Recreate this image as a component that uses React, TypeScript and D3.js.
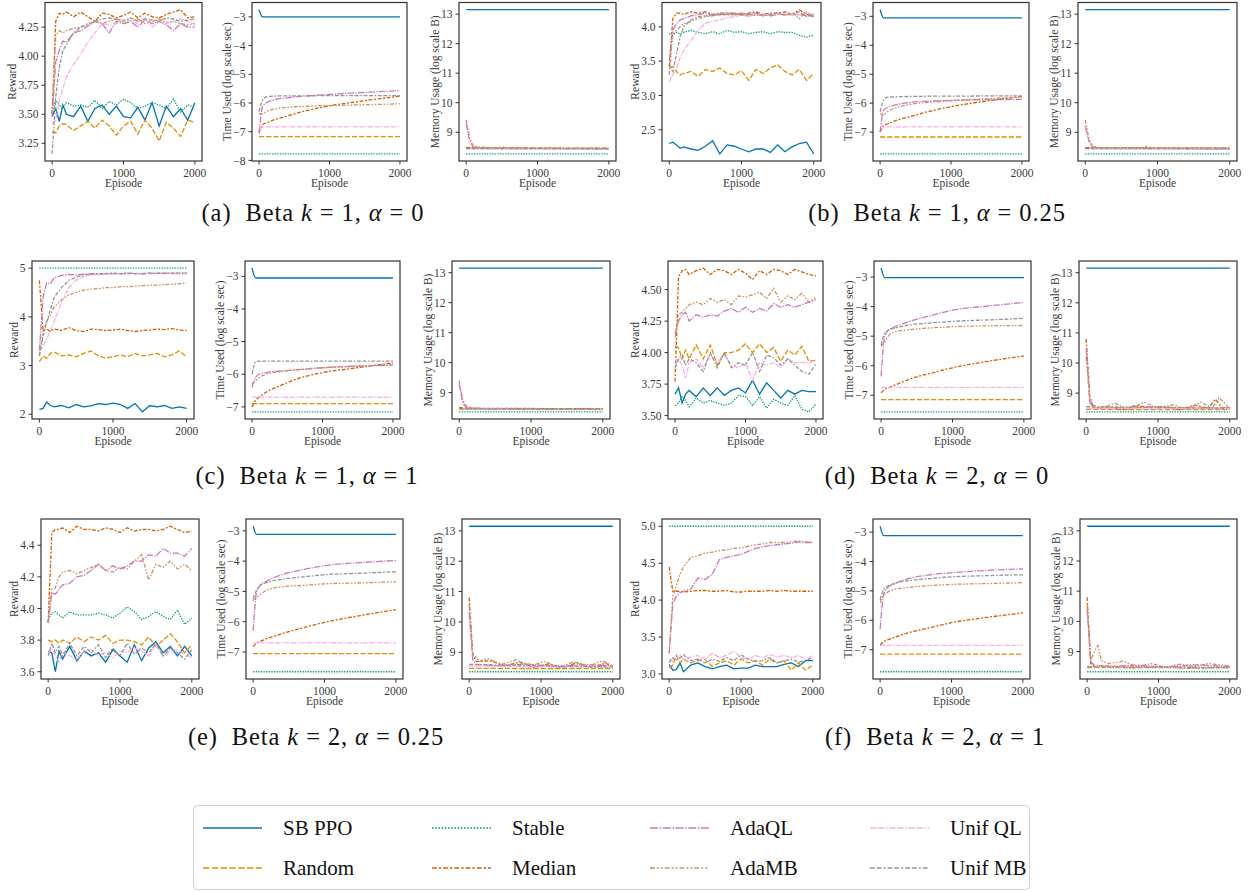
import React from 'react';
import * as d3 from 'd3';

// ---- series definitions ----
const SERIES = ['SB PPO', 'Random', 'Stable', 'Median', 'AdaQL', 'AdaMB', 'Unif QL', 'Unif MB'];
const COLORS = ['#0173b2', '#de8f05', '#029e73', '#d55e00', '#cc78bc', '#ca9161', '#fbafe4', '#949494'];
// seaborn default dash patterns, in units of line width
const DASHES: number[][] = [
  [],
  [4, 1.5],
  [1, 1],
  [3, 1.25, 1.5, 1.25],
  [5, 1, 1, 1],
  [3, 1.25, 1.25, 1.25, 1.25, 1.25],
  [4, 1, 4, 1, 1, 1],
  [3, 1.25, 3, 1.25, 1.25, 1.25],
];

// ---- episode grids ----
const REWARD_EPISODES = [0, 50, 100, 150, 200, 300, 400, 500, 600, 700, 800, 900, 1000, 1100, 1200, 1300, 1400, 1500, 1600, 1700, 1800, 1900, 2000];
const TIME_EPISODES = [0, 50, 100, 200, 400, 700, 1000, 1500, 2000];
const EPISODE_TICKS = [0, 1000, 2000];

// ---- reward curves (one row per series, in SERIES order) ----
const REWARD_A = [
  [3.48, 3.55, 3.44, 3.58, 3.50, 3.48, 3.57, 3.44, 3.55, 3.58, 3.50, 3.57, 3.48, 3.47, 3.56, 3.45, 3.60, 3.40, 3.57, 3.48, 3.55, 3.45, 3.60],
  [3.35, 3.34, 3.40, 3.42, 3.41, 3.36, 3.40, 3.44, 3.38, 3.45, 3.40, 3.32, 3.40, 3.44, 3.33, 3.45, 3.38, 3.27, 3.43, 3.38, 3.31, 3.45, 3.43],
  [3.50, 3.62, 3.58, 3.55, 3.60, 3.57, 3.58, 3.56, 3.62, 3.55, 3.61, 3.58, 3.63, 3.60, 3.55, 3.57, 3.60, 3.58, 3.55, 3.63, 3.52, 3.58, 3.56],
  [3.50, 4.30, 4.37, 4.36, 4.38, 4.34, 4.38, 4.34, 4.30, 4.37, 4.36, 4.33, 4.35, 4.38, 4.33, 4.37, 4.34, 4.33, 4.36, 4.38, 4.40, 4.33, 4.34],
  [3.48, 3.95, 4.05, 4.13, 4.12, 4.20, 4.22, 4.26, 4.30, 4.28, 4.20, 4.30, 4.28, 4.30, 4.25, 4.31, 4.28, 4.30, 4.27, 4.22, 4.28, 4.25, 4.25],
  [3.50, 4.18, 4.22, 4.20, 4.22, 4.24, 4.25, 4.27, 4.30, 4.28, 4.30, 4.32, 4.28, 4.30, 4.32, 4.28, 4.30, 4.32, 4.29, 4.30, 4.28, 4.27, 4.28],
  [3.42, 3.45, 3.62, 3.72, 3.82, 3.93, 4.02, 4.12, 4.20, 4.28, 4.27, 4.28, 4.32, 4.30, 4.28, 4.33, 4.25, 4.30, 4.28, 4.30, 4.32, 4.30, 4.27],
  [3.16, 3.65, 3.90, 4.05, 4.10, 4.20, 4.25, 4.28, 4.30, 4.32, 4.33, 4.32, 4.30, 4.33, 4.30, 4.32, 4.31, 4.30, 4.33, 4.32, 4.30, 4.31, 4.32],
];
const REWARD_B = [
  [2.30, 2.32, 2.28, 2.23, 2.25, 2.22, 2.20, 2.26, 2.34, 2.15, 2.28, 2.26, 2.22, 2.18, 2.22, 2.22, 2.17, 2.28, 2.18, 2.25, 2.30, 2.32, 2.15],
  [3.40, 3.42, 3.35, 3.30, 3.32, 3.35, 3.28, 3.38, 3.35, 3.40, 3.32, 3.30, 3.36, 3.22, 3.38, 3.32, 3.40, 3.45, 3.35, 3.30, 3.38, 3.22, 3.32],
  [3.90, 3.88, 3.92, 3.90, 3.92, 3.95, 3.92, 3.90, 3.93, 3.90, 3.95, 3.92, 3.93, 3.90, 3.92, 3.93, 3.90, 3.93, 3.92, 3.92, 3.88, 3.85, 3.88],
  [3.42, 4.12, 4.20, 4.20, 4.18, 4.22, 4.20, 4.22, 4.18, 4.20, 4.20, 4.20, 4.18, 4.20, 4.22, 4.18, 4.20, 4.20, 4.22, 4.18, 4.25, 4.18, 4.18],
  [3.50, 3.95, 4.05, 4.10, 4.12, 4.16, 4.18, 4.20, 4.17, 4.18, 4.20, 4.18, 4.20, 4.18, 4.17, 4.18, 4.16, 4.18, 4.20, 4.18, 4.18, 4.16, 4.15],
  [3.30, 3.90, 3.95, 4.00, 4.05, 4.08, 4.12, 4.15, 4.16, 4.18, 4.18, 4.17, 4.20, 4.15, 4.18, 4.16, 4.18, 4.20, 4.17, 4.20, 4.12, 4.22, 4.15],
  [3.20, 3.30, 3.40, 3.55, 3.65, 3.80, 3.95, 4.05, 4.08, 4.10, 4.13, 4.15, 4.17, 4.15, 4.20, 4.17, 4.18, 4.19, 4.20, 4.18, 4.17, 4.20, 4.18],
  [3.45, 3.35, 3.60, 3.85, 4.00, 4.10, 4.15, 4.16, 4.17, 4.18, 4.18, 4.20, 4.17, 4.18, 4.20, 4.16, 4.18, 4.20, 4.17, 4.18, 4.22, 4.15, 4.18],
];
const REWARD_C = [
  [2.10, 2.12, 2.25, 2.18, 2.15, 2.18, 2.13, 2.20, 2.15, 2.17, 2.22, 2.20, 2.23, 2.20, 2.12, 2.22, 2.05, 2.18, 2.15, 2.18, 2.12, 2.15, 2.12],
  [3.08, 3.20, 3.15, 3.25, 3.28, 3.20, 3.22, 3.18, 3.25, 3.30, 3.20, 3.15, 3.18, 3.22, 3.18, 3.25, 3.20, 3.22, 3.25, 3.18, 3.22, 3.30, 3.18],
  [5.00, 5.00, 5.00, 5.00, 5.00, 5.00, 5.00, 5.00, 5.00, 5.00, 5.00, 5.00, 5.00, 5.00, 5.00, 5.00, 5.00, 5.00, 5.00, 5.00, 5.00, 5.00, 5.00],
  [4.75, 3.72, 3.75, 3.70, 3.75, 3.72, 3.78, 3.72, 3.70, 3.75, 3.74, 3.72, 3.73, 3.75, 3.72, 3.70, 3.72, 3.73, 3.75, 3.74, 3.76, 3.73, 3.72],
  [3.30, 4.40, 4.70, 4.68, 4.80, 4.85, 4.87, 4.86, 4.88, 4.89, 4.88, 4.88, 4.89, 4.88, 4.90, 4.89, 4.88, 4.90, 4.89, 4.90, 4.89, 4.90, 4.90],
  [3.20, 3.70, 3.90, 4.05, 4.20, 4.35, 4.45, 4.50, 4.55, 4.57, 4.58, 4.60, 4.60, 4.62, 4.62, 4.63, 4.64, 4.65, 4.65, 4.66, 4.67, 4.68, 4.70],
  [3.30, 3.40, 3.55, 3.70, 3.90, 4.30, 4.60, 4.75, 4.83, 4.86, 4.87, 4.88, 4.88, 4.89, 4.88, 4.89, 4.90, 4.88, 4.89, 4.90, 4.89, 4.88, 4.89],
  [3.20, 3.60, 3.90, 4.15, 4.40, 4.60, 4.75, 4.82, 4.86, 4.88, 4.89, 4.89, 4.90, 4.89, 4.90, 4.89, 4.89, 4.90, 4.90, 4.89, 4.90, 4.90, 4.90],
];
const REWARD_D = [
  [3.67, 3.72, 3.60, 3.67, 3.70, 3.65, 3.72, 3.66, 3.72, 3.66, 3.70, 3.72, 3.68, 3.78, 3.67, 3.76, 3.70, 3.64, 3.70, 3.67, 3.70, 3.69, 3.69],
  [4.05, 4.04, 3.95, 4.02, 3.95, 4.06, 3.95, 4.06, 3.90, 4.00, 4.00, 4.02, 4.07, 4.00, 4.07, 4.00, 4.04, 3.93, 4.02, 3.98, 4.05, 3.93, 3.94],
  [3.58, 3.60, 3.65, 3.62, 3.57, 3.64, 3.60, 3.62, 3.60, 3.58, 3.60, 3.66, 3.65, 3.58, 3.65, 3.56, 3.63, 3.60, 3.58, 3.66, 3.55, 3.53, 3.59],
  [3.77, 4.60, 4.65, 4.66, 4.62, 4.65, 4.67, 4.62, 4.66, 4.65, 4.62, 4.66, 4.63, 4.58, 4.65, 4.62, 4.66, 4.65, 4.62, 4.66, 4.64, 4.62, 4.61],
  [4.15, 4.25, 4.30, 4.32, 4.25, 4.30, 4.28, 4.30, 4.29, 4.33, 4.35, 4.32, 4.36, 4.32, 4.35, 4.33, 4.39, 4.36, 4.38, 4.36, 4.38, 4.40, 4.42],
  [4.12, 4.30, 4.32, 4.35, 4.38, 4.40, 4.38, 4.43, 4.40, 4.42, 4.38, 4.45, 4.44, 4.46, 4.48, 4.43, 4.51, 4.40, 4.45, 4.42, 4.47, 4.40, 4.44],
  [3.93, 3.95, 3.90, 3.80, 3.92, 3.95, 3.88, 3.98, 3.92, 3.98, 3.90, 3.88, 3.92, 3.78, 3.92, 3.90, 3.92, 3.88, 3.95, 3.92, 3.92, 3.92, 3.94],
  [3.88, 3.95, 3.98, 3.90, 3.95, 3.92, 3.85, 4.00, 3.88, 4.00, 3.88, 3.92, 3.90, 4.00, 3.85, 3.98, 3.96, 3.90, 3.95, 3.90, 3.85, 3.83, 3.91],
];
const REWARD_E = [
  [3.73, 3.72, 3.60, 3.73, 3.68, 3.76, 3.67, 3.73, 3.70, 3.72, 3.66, 3.74, 3.70, 3.66, 3.77, 3.67, 3.75, 3.79, 3.72, 3.76, 3.70, 3.76, 3.70],
  [3.80, 3.79, 3.80, 3.78, 3.80, 3.78, 3.82, 3.79, 3.82, 3.80, 3.83, 3.78, 3.80, 3.80, 3.79, 3.77, 3.82, 3.76, 3.80, 3.84, 3.79, 3.72, 3.77],
  [3.93, 3.97, 3.98, 3.96, 3.94, 3.98, 3.96, 3.96, 3.96, 3.97, 3.96, 3.94, 3.97, 4.01, 3.98, 3.93, 3.95, 3.98, 3.95, 3.93, 3.99, 3.90, 3.94],
  [3.91, 4.48, 4.50, 4.50, 4.51, 4.48, 4.52, 4.50, 4.50, 4.49, 4.51, 4.50, 4.48, 4.51, 4.49, 4.50, 4.50, 4.49, 4.50, 4.52, 4.50, 4.48, 4.49],
  [3.91, 4.10, 4.09, 4.12, 4.15, 4.16, 4.20, 4.21, 4.24, 4.28, 4.24, 4.27, 4.25, 4.27, 4.30, 4.30, 4.34, 4.33, 4.38, 4.35, 4.35, 4.33, 4.38],
  [3.91, 4.12, 4.13, 4.20, 4.23, 4.24, 4.22, 4.24, 4.26, 4.28, 4.24, 4.23, 4.26, 4.25, 4.30, 4.34, 4.18, 4.28, 4.26, 4.30, 4.25, 4.28, 4.24],
  [3.72, 3.74, 3.70, 3.66, 3.73, 3.70, 3.68, 3.73, 3.74, 3.70, 3.72, 3.69, 3.73, 3.72, 3.75, 3.73, 3.70, 3.77, 3.70, 3.73, 3.74, 3.71, 3.69],
  [3.70, 3.78, 3.72, 3.76, 3.70, 3.78, 3.70, 3.76, 3.72, 3.77, 3.69, 3.75, 3.70, 3.78, 3.71, 3.75, 3.72, 3.78, 3.70, 3.75, 3.72, 3.68, 3.74],
];
const REWARD_F = [
  [3.13, 3.05, 3.06, 3.15, 3.03, 3.12, 3.15, 3.10, 3.07, 3.10, 3.12, 3.07, 3.08, 3.08, 3.12, 3.10, 3.10, 3.10, 3.13, 3.15, 3.10, 3.18, 3.18],
  [3.08, 3.12, 3.25, 3.15, 3.20, 3.15, 3.18, 3.20, 3.10, 3.15, 3.18, 3.12, 3.20, 3.15, 3.18, 3.12, 3.20, 3.15, 3.18, 3.05, 3.15, 3.05, 3.12],
  [5.00, 5.00, 5.00, 5.00, 5.00, 5.00, 5.00, 5.00, 5.00, 5.00, 5.00, 5.00, 5.00, 5.00, 5.00, 5.00, 5.00, 5.00, 5.00, 5.00, 5.00, 5.00, 5.00],
  [4.45, 4.12, 4.12, 4.12, 4.11, 4.12, 4.13, 4.13, 4.12, 4.12, 4.13, 4.11, 4.11, 4.12, 4.12, 4.12, 4.13, 4.12, 4.13, 4.12, 4.12, 4.12, 4.12],
  [3.28, 3.95, 4.05, 4.10, 4.12, 4.15, 4.30, 4.28, 4.35, 4.55, 4.58, 4.60, 4.62, 4.66, 4.70, 4.72, 4.74, 4.75, 4.76, 4.77, 4.79, 4.78, 4.78],
  [3.28, 4.05, 4.20, 4.35, 4.45, 4.58, 4.60, 4.64, 4.65, 4.67, 4.68, 4.70, 4.71, 4.73, 4.75, 4.76, 4.78, 4.78, 4.78, 4.79, 4.80, 4.79, 4.78],
  [3.20, 3.18, 3.22, 3.26, 3.20, 3.23, 3.25, 3.20, 3.28, 3.22, 3.25, 3.31, 3.22, 3.20, 3.25, 3.22, 3.26, 3.23, 3.25, 3.22, 3.25, 3.20, 3.25],
  [3.15, 3.22, 3.18, 3.22, 3.26, 3.18, 3.20, 3.15, 3.20, 3.17, 3.22, 3.18, 3.26, 3.20, 3.17, 3.18, 3.22, 3.15, 3.18, 3.20, 3.16, 3.18, 3.22],
];

// ---- time used, log scale seconds ----
const TIME_A = [
  [-2.75, -3.0, -3.0, -3.0, -3.0, -3.0, -3.0, -3.0, -3.0],
  [-7.17, -7.17, -7.17, -7.17, -7.17, -7.17, -7.17, -7.17, -7.17],
  [-7.77, -7.77, -7.77, -7.77, -7.77, -7.77, -7.77, -7.77, -7.77],
  [-7.05, -6.76, -6.7, -6.6, -6.45, -6.25, -6.1, -5.92, -5.76],
  [-7.05, -6.13, -6.0, -5.9, -5.82, -5.75, -5.7, -5.63, -5.57],
  [-6.36, -6.38, -6.3, -6.22, -6.15, -6.11, -6.09, -6.06, -6.03],
  [-6.83, -6.83, -6.83, -6.83, -6.83, -6.83, -6.83, -6.83, -6.83],
  [-6.3, -5.9, -5.79, -5.76, -5.75, -5.75, -5.74, -5.74, -5.74],
];
const TIME_B = [
  [-2.77, -3.05, -3.05, -3.05, -3.05, -3.05, -3.05, -3.05, -3.05],
  [-7.17, -7.17, -7.17, -7.17, -7.17, -7.17, -7.17, -7.17, -7.17],
  [-7.75, -7.75, -7.75, -7.75, -7.75, -7.75, -7.75, -7.75, -7.75],
  [-7.0, -6.77, -6.72, -6.62, -6.48, -6.28, -6.12, -5.93, -5.77],
  [-7.0, -6.24, -6.15, -6.07, -5.98, -5.93, -5.9, -5.88, -5.87],
  [-6.36, -6.42, -6.3, -6.18, -6.05, -5.97, -5.92, -5.85, -5.78],
  [-6.82, -6.82, -6.82, -6.82, -6.82, -6.82, -6.82, -6.82, -6.82],
  [-6.3, -5.9, -5.8, -5.78, -5.77, -5.76, -5.76, -5.75, -5.75],
];
const TIME_C = [
  [-2.75, -3.05, -3.05, -3.05, -3.05, -3.05, -3.05, -3.05, -3.05],
  [-6.9, -6.9, -6.9, -6.9, -6.9, -6.9, -6.9, -6.9, -6.9],
  [-7.15, -7.15, -7.15, -7.15, -7.15, -7.15, -7.15, -7.15, -7.15],
  [-7.0, -6.8, -6.7, -6.55, -6.35, -6.1, -5.95, -5.8, -5.65],
  [-6.4, -6.1, -6.0, -5.95, -5.9, -5.85, -5.8, -5.75, -5.72],
  [-6.3, -6.2, -6.1, -6.0, -5.92, -5.85, -5.8, -5.75, -5.7],
  [-6.7, -6.7, -6.7, -6.7, -6.7, -6.7, -6.7, -6.7, -6.7],
  [-6.0, -5.62, -5.6, -5.6, -5.6, -5.6, -5.6, -5.6, -5.6],
];
const TIME_D = [
  [-2.7, -3.02, -3.02, -3.02, -3.02, -3.02, -3.02, -3.02, -3.02],
  [-7.15, -7.15, -7.15, -7.15, -7.15, -7.15, -7.15, -7.15, -7.15],
  [-7.56, -7.56, -7.56, -7.56, -7.56, -7.56, -7.56, -7.56, -7.56],
  [-6.92, -6.8, -6.75, -6.65, -6.45, -6.25, -6.07, -5.85, -5.67],
  [-6.36, -5.0, -4.8, -4.68, -4.5, -4.3, -4.12, -3.98, -3.86],
  [-5.35, -5.2, -5.0, -4.85, -4.78, -4.72, -4.68, -4.65, -4.64],
  [-6.73, -6.73, -6.73, -6.73, -6.73, -6.73, -6.73, -6.73, -6.73],
  [-5.3, -4.9, -4.8, -4.72, -4.62, -4.55, -4.5, -4.45, -4.4],
];
const TIME_E = [
  [-2.85, -3.12, -3.12, -3.12, -3.12, -3.12, -3.12, -3.12, -3.12],
  [-7.05, -7.05, -7.05, -7.05, -7.05, -7.05, -7.05, -7.05, -7.05],
  [-7.65, -7.65, -7.65, -7.65, -7.65, -7.65, -7.65, -7.65, -7.65],
  [-6.82, -6.7, -6.65, -6.55, -6.4, -6.2, -6.02, -5.8, -5.6],
  [-6.3, -5.0, -4.8, -4.65, -4.45, -4.28, -4.15, -4.05, -3.98],
  [-5.3, -5.2, -5.1, -4.95, -4.85, -4.8, -4.75, -4.72, -4.68],
  [-6.7, -6.7, -6.7, -6.7, -6.7, -6.7, -6.7, -6.7, -6.7],
  [-5.25, -4.95, -4.8, -4.7, -4.6, -4.52, -4.45, -4.4, -4.35],
];
const TIME_F = [
  [-2.8, -3.12, -3.12, -3.12, -3.12, -3.12, -3.12, -3.12, -3.12],
  [-7.15, -7.15, -7.15, -7.15, -7.15, -7.15, -7.15, -7.15, -7.15],
  [-7.75, -7.75, -7.75, -7.75, -7.75, -7.75, -7.75, -7.75, -7.75],
  [-6.85, -6.72, -6.67, -6.58, -6.42, -6.25, -6.08, -5.9, -5.75],
  [-6.3, -5.1, -4.9, -4.75, -4.58, -4.45, -4.38, -4.3, -4.25],
  [-5.4, -5.15, -5.05, -4.95, -4.88, -4.82, -4.78, -4.75, -4.72],
  [-6.85, -6.85, -6.85, -6.85, -6.85, -6.85, -6.85, -6.85, -6.85],
  [-5.3, -4.95, -4.85, -4.75, -4.65, -4.58, -4.52, -4.48, -4.45],
];

// ---- memory usage, log scale bytes: [episode, value] pairs ----
type Pt = [number, number];
const MEMORY_A: Pt[][] = [
  [[0, 13.15], [2000, 13.15]],
  [[0, 8.47], [2000, 8.46]],
  [[0, 8.27], [2000, 8.27]],
  [[0, 8.48], [100, 8.47], [2000, 8.45]],
  [[0, 9.3], [50, 8.7], [100, 8.5], [200, 8.47], [500, 8.45], [2000, 8.43]],
  [[0, 9.42], [50, 8.8], [100, 8.52], [200, 8.5], [400, 8.46], [500, 8.5], [600, 8.46], [2000, 8.45]],
  [[0, 8.44], [2000, 8.43]],
  [[0, 8.45], [2000, 8.44]],
];
const MEMORY_B: Pt[][] = [
  [[0, 13.15], [2000, 13.15]],
  [[0, 8.47], [2000, 8.46]],
  [[0, 8.27], [2000, 8.27]],
  [[0, 8.48], [100, 8.47], [2000, 8.46]],
  [[0, 9.2], [50, 8.7], [100, 8.5], [200, 8.46], [2000, 8.43]],
  [[0, 9.42], [50, 8.8], [100, 8.52], [200, 8.48], [800, 8.47], [850, 8.53], [900, 8.47], [2000, 8.46]],
  [[0, 8.44], [2000, 8.43]],
  [[0, 8.45], [2000, 8.44]],
];
const MEMORY_C: Pt[][] = [
  [[0, 13.15], [2000, 13.15]],
  [[0, 8.47], [2000, 8.46]],
  [[0, 8.36], [2000, 8.36]],
  [[0, 8.5], [100, 8.48], [2000, 8.46]],
  [[0, 9.3], [50, 8.65], [100, 8.5], [200, 8.47], [2000, 8.44]],
  [[0, 9.4], [50, 8.75], [100, 8.55], [200, 8.48], [500, 8.46], [2000, 8.45]],
  [[0, 8.44], [2000, 8.43]],
  [[0, 8.45], [2000, 8.44]],
];
const MEMORY_D: Pt[][] = [
  [[0, 13.15], [2000, 13.15]],
  [[0, 8.46], [2000, 8.45]],
  [[0, 8.38], [2000, 8.38]],
  [[0, 10.8], [50, 8.9], [100, 8.5], [300, 8.56], [500, 8.45], [700, 8.6], [900, 8.5], [1100, 8.56], [1300, 8.45], [1500, 8.6], [1700, 8.5], [1800, 8.8], [1900, 8.5], [2000, 8.55]],
  [[0, 10.5], [50, 8.7], [100, 8.5], [500, 8.52], [1000, 8.55], [1500, 8.5], [2000, 8.52]],
  [[0, 10.2], [50, 8.8], [100, 8.6], [200, 8.5], [400, 8.66], [600, 8.45], [800, 8.7], [1000, 8.5], [1200, 8.62], [1400, 8.45], [1600, 8.7], [1750, 8.5], [1850, 8.85], [2000, 8.5]],
  [[0, 8.5], [2000, 8.48]],
  [[0, 8.55], [2000, 8.5]],
];
const MEMORY_E: Pt[][] = [
  [[0, 13.15], [2000, 13.15]],
  [[0, 8.47], [2000, 8.46]],
  [[0, 8.36], [2000, 8.36]],
  [[0, 10.8], [50, 8.9], [100, 8.7], [300, 8.72], [500, 8.55], [700, 8.68], [900, 8.5], [1100, 8.62], [1300, 8.48], [1500, 8.66], [1700, 8.5], [1900, 8.64], [2000, 8.52]],
  [[0, 10.3], [50, 8.75], [100, 8.6], [400, 8.55], [800, 8.62], [1200, 8.52], [1600, 8.6], [2000, 8.55]],
  [[0, 10.6], [50, 8.95], [150, 8.7], [250, 8.8], [450, 8.6], [650, 8.75], [850, 8.55], [1050, 8.7], [1250, 8.5], [1450, 8.68], [1650, 8.52], [1850, 8.72], [2000, 8.55]],
  [[0, 8.55], [2000, 8.5]],
  [[0, 8.6], [2000, 8.52]],
];
const MEMORY_F: Pt[][] = [
  [[0, 13.15], [2000, 13.15]],
  [[0, 8.47], [2000, 8.46]],
  [[0, 8.33], [2000, 8.33]],
  [[0, 10.8], [50, 8.6], [100, 8.5], [300, 8.52], [600, 8.46], [1000, 8.5], [1400, 8.45], [2000, 8.48]],
  [[0, 10.4], [50, 8.65], [100, 8.55], [300, 8.5], [700, 8.55], [1100, 8.48], [1500, 8.56], [2000, 8.5]],
  [[0, 10.6], [50, 8.7], [100, 9.0], [150, 9.2], [200, 8.7], [300, 8.6], [500, 8.68], [700, 8.5], [900, 8.6], [1100, 8.48], [1300, 8.58], [1500, 8.5], [1700, 8.6], [2000, 8.52]],
  [[0, 8.5], [2000, 8.46]],
  [[0, 8.5], [2000, 8.47]],
];

// ---- axis ticks ----
const REWARD_TICKS = [
  [3.25, 3.5, 3.75, 4.0, 4.25],
  [2.5, 3.0, 3.5, 4.0],
  [2, 3, 4, 5],
  [3.5, 3.75, 4.0, 4.25, 4.5],
  [3.6, 3.8, 4.0, 4.2, 4.4],
  [3.0, 3.5, 4.0, 4.5, 5.0],
];
const REWARD_DECIMALS = [2, 1, 0, 2, 1, 1];
const TIME_TICKS = [
  [-8, -7, -6, -5, -4, -3],
  [-7, -6, -5, -4, -3],
  [-7, -6, -5, -4, -3],
  [-7, -6, -5, -4, -3],
  [-7, -6, -5, -4, -3],
  [-7, -6, -5, -4, -3],
];
const MEMORY_TICKS = [9, 10, 11, 12, 13];

// ---- captions ----
const CAPTION_LETTERS = ['a', 'b', 'c', 'd', 'e', 'f'];
const CAPTION_K = ['1', '1', '1', '2', '2', '2'];
const CAPTION_ALPHA = ['0', '0.25', '1', '0', '0.25', '1'];

const REWARDS = [REWARD_A, REWARD_B, REWARD_C, REWARD_D, REWARD_E, REWARD_F];
const TIMES = [TIME_A, TIME_B, TIME_C, TIME_D, TIME_E, TIME_F];
const MEMORIES = [MEMORY_A, MEMORY_B, MEMORY_C, MEMORY_D, MEMORY_E, MEMORY_F];

// ---- layout ----
const ROW_Y: [number, number][] = [[2.5, 161], [261, 419], [519, 679]];
const GROUP_X: [number, number][][] = [
  [[45, 202], [252, 407], [459, 616]],
  [[662, 821], [873, 1029], [1078, 1237]],
  [[32, 194], [245, 400], [452, 610]],
  [[668, 823], [874, 1031], [1079, 1237]],
  [[41, 199], [246, 403], [462, 620]],
  [[662, 820], [873, 1030], [1080, 1237]],
];
const CAPTION_POS: [number, number][] = [[313, 221], [937, 221], [307, 484], [937, 484], [316, 745], [935, 745]];

const FONT = '"Liberation Serif", "DejaVu Serif", serif';
const TEXT = '#3a3a3a';
const TICK_FS = 11.5;
const LW = 1.3;

const fmt = (v: number, dec: number) => (v < 0 ? '\u2212' : '') + Math.abs(v).toFixed(dec);
const textWidth = (s: string) =>
  Array.from(s).reduce((a, c) => a + (c === '.' ? 0.25 : c === '\u2212' ? 0.6 : 0.5), 0) * TICK_FS;

type PanelProps = {
  x0: number; x1: number; y0: number; y1: number;
  data: Pt[][];
  ticks: number[];
  decimals: number;
  yLabel: string;
  smooth: boolean;
};

function Panel({ x0, x1, y0, y1, data, ticks, decimals, yLabel, smooth }: PanelProps) {
  const xs = d3.scaleLinear().domain([-100, 2100]).range([x0, x1]);
  const all = data.flat().map((p) => p[1]);
  const [lo, hi] = d3.extent(all) as [number, number];
  const pad = (hi - lo) * 0.05;
  const ys = d3.scaleLinear().domain([lo - pad, hi + pad]).range([y1, y0]);
  const line = d3
    .line<Pt>()
    .x((p) => xs(p[0]))
    .y((p) => ys(p[1]))
    .curve(smooth ? d3.curveMonotoneX : d3.curveLinear);
  const labels = ticks.map((t) => fmt(t, decimals));
  const maxW = Math.max(...labels.map(textWidth));
  const labelX = x0 - 12.5 - maxW;
  const clipId = `clip-${Math.round(x0)}-${Math.round(y0)}`;
  return (
    <g>
      <defs>
        <clipPath id={clipId}>
          <rect x={x0} y={y0} width={x1 - x0} height={y1 - y0} />
        </clipPath>
      </defs>
      <g clipPath={`url(#${clipId})`}>
        {data.map((pts, i) => (
          <path
            key={SERIES[i]}
            d={line(pts) || ''}
            fill="none"
            stroke={COLORS[i]}
            strokeWidth={LW}
            strokeDasharray={DASHES[i].length ? DASHES[i].map((v) => v * LW).join(' ') : undefined}
          />
        ))}
      </g>
      <rect x={x0} y={y0} width={x1 - x0} height={y1 - y0} fill="none" stroke="#333" strokeWidth={1.2} />
      {ticks.map((t, i) => (
        <g key={`y${t}`}>
          <line x1={x0 - 3.5} x2={x0} y1={ys(t)} y2={ys(t)} stroke="#333" strokeWidth={1} />
          <text x={x0 - 6.5} y={ys(t)} dy="0.36em" textAnchor="end" fontSize={TICK_FS} fill={TEXT} fontFamily={FONT}>
            {labels[i]}
          </text>
        </g>
      ))}
      {EPISODE_TICKS.map((t) => (
        <g key={`x${t}`}>
          <line x1={xs(t)} x2={xs(t)} y1={y1} y2={y1 + 3.5} stroke="#333" strokeWidth={1} />
          <text x={xs(t)} y={y1 + 15.5} textAnchor="middle" fontSize={TICK_FS} fill={TEXT} fontFamily={FONT}>
            {t}
          </text>
        </g>
      ))}
      <text x={(x0 + x1) / 2} y={y1 + 25.5} textAnchor="middle" fontSize={11.5} fill={TEXT} fontFamily={FONT}>
        Episode
      </text>
      <text
        transform={`translate(${labelX},${(y0 + y1) / 2}) rotate(-90)`}
        textAnchor="middle"
        dy="0.35em"
        fontSize={11.5}
        fill={TEXT}
        fontFamily={FONT}
      >
        {yLabel}
      </text>
    </g>
  );
}

const toPts = (xs: number[], rows: number[][]): Pt[][] => rows.map((r) => r.map((v, i) => [xs[i], v] as Pt));

export default function App() {
  const legendCols = [203, 432, 650, 870];
  const legendRows = [828, 868];
  return (
    <svg
      width={1251}
      height={892}
      style={{ position: 'absolute', left: 0, top: 0, background: '#fff' }}
      fontFamily={FONT}
    >
      <rect x={0} y={0} width={1251} height={892} fill="#fff" />
      {CAPTION_LETTERS.map((letter, g) => {
        const [yTop, yBot] = ROW_Y[Math.floor(g / 2)];
        const cols = GROUP_X[g];
        const [cx, cy] = CAPTION_POS[g];
        return (
          <g key={letter}>
            <Panel
              x0={cols[0][0]} x1={cols[0][1]} y0={yTop} y1={yBot}
              data={toPts(REWARD_EPISODES, REWARDS[g])}
              ticks={REWARD_TICKS[g]} decimals={REWARD_DECIMALS[g]}
              yLabel="Reward" smooth={false}
            />
            <Panel
              x0={cols[1][0]} x1={cols[1][1]} y0={yTop} y1={yBot}
              data={toPts(TIME_EPISODES, TIMES[g])}
              ticks={TIME_TICKS[g]} decimals={0}
              yLabel="Time Used (log scale sec)" smooth={true}
            />
            <Panel
              x0={cols[2][0]} x1={cols[2][1]} y0={yTop} y1={yBot}
              data={MEMORIES[g]}
              ticks={MEMORY_TICKS} decimals={0}
              yLabel="Memory Usage (log scale B)" smooth={false}
            />
            <text
              x={cx} y={cy} textAnchor="middle" fontSize={24.5} letterSpacing={0.9}
              fill="#111" style={{ whiteSpace: 'pre' }}
            >
              {`(${letter})  Beta `}
              <tspan fontStyle="italic">k</tspan>
              {` = ${CAPTION_K[g]}, `}
              <tspan fontStyle="italic">α</tspan>
              {` = ${CAPTION_ALPHA[g]}`}
            </text>
          </g>
        );
      })}
      <rect x={193.5} y={805.5} width={836} height={84} rx={4} fill="#fff" stroke="#d0d0d0" strokeWidth={1} />
      {SERIES.map((name, i) => {
        const col = Math.floor(i / 2);
        const row = i % 2;
        const lx = legendCols[col];
        const ly = legendRows[row];
        const lw = 1.6;
        return (
          <g key={name}>
            <line
              x1={lx} x2={lx + 59} y1={ly} y2={ly}
              stroke={COLORS[i]} strokeWidth={lw}
              strokeDasharray={DASHES[i].length ? DASHES[i].map((v) => v * lw).join(' ') : undefined}
            />
            <text x={lx + 80} y={ly} dy="0.35em" fontSize={21} fill="#111">
              {name}
            </text>
          </g>
        );
      })}
    </svg>
  );
}
